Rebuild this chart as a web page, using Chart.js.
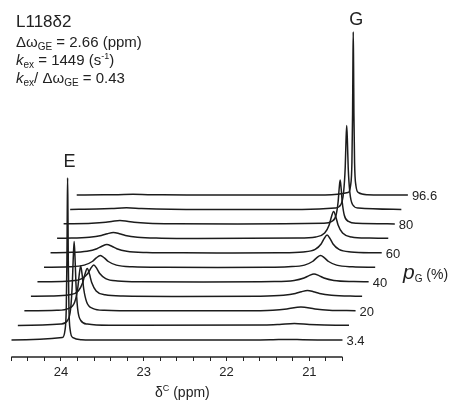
<!DOCTYPE html>
<html>
<head>
<meta charset="utf-8">
<script src="https://cdn.jsdelivr.net/npm/chart.js@4.4.1/dist/chart.umd.min.js"></script>
<style>
    body { margin: 0; background: #fff; }
    #wrap { position: relative; width: 459px; height: 406px; font-family: "Liberation Sans", Arial, sans-serif; color: #222; }
    #wrap canvas { position: absolute; left: 0; top: 0; }
    .t { position: absolute; white-space: nowrap; line-height: 1; }
    .sub { font-size: 10px; position: relative; top: 3px; }
    .sup { font-size: 9px; position: relative; top: -6px; }
</style>
</head>
<body>
<div id="wrap">
    <canvas id="myChart" width="459" height="406"></canvas>
    <div class="t" style="left:16px;top:13px;font-size:17px">L118δ2</div>
    <div class="t" style="left:16px;top:34px;font-size:15px">Δω<span class="sub">GE</span> = 2.66 (ppm)</div>
    <div class="t" style="left:16px;top:52px;font-size:15px"><i>k</i><span class="sub">ex</span> = 1449 (s<span class="sup">-1</span>)</div>
    <div class="t" style="left:16px;top:70px;font-size:15px"><i>k</i><span class="sub">ex</span>/ Δω<span class="sub">GE</span> = 0.43</div>
    <div class="t" style="left:403px;top:261px;font-size:14px"><i style="font-size:21px">p</i><span class="sub">G</span> (%)</div>
    <div class="t" style="left:155px;top:385px;font-size:14px">δ<span class="sup">C</span> (ppm)</div>
</div>
<script>
// population of G for each trace, bottom to top
var pG = [3.4, 10, 20, 30, 40, 50, 60, 70, 80, 90, 96.6];
var pGLabels = ['3.4', '', '20', '', '40', '', '60', '', '80', '', '96.6'];
var xTicks = [24.6, 24.4, 24.2, 24.0, 23.8, 23.6, 23.4, 23.2, 23.0, 22.8, 22.6,
              22.4, 22.2, 22.0, 21.8, 21.6, 21.4, 21.2, 21.0, 20.8, 20.6];
var peakNames = ['E', 'G'];
var peakPpm = [23.92, 21.26];

// spectra: [ppm, intensity]
var spec_3_4 = [[24.6,0],[23.984,2.4],[23.952,9.5],[23.936,32],[23.928,81],[23.924,130],[23.92,162],[23.916,130],[23.912,81],[23.904,32],[23.888,9.5],[23.856,2.4],[23.75,0.3],[23.5,0],[21.62,0.1],[21.44,0.3],[21.26,0.6],[21.08,0.3],[20.9,0.1],[20.6,0]];
var spec_10 = [[24.6,0],[24.08,1.4],[24.0,5],[23.962,17],[23.942,42],[23.931,67],[23.92,84],[23.909,67],[23.898,42],[23.878,17],[23.84,5],[23.76,1.4],[23.5,0.2],[21.62,0.4],[21.44,1],[21.26,2],[21.08,1],[20.9,0.4],[20.6,0.15]];
var spec_20 = [[24.6,0.2],[24.208,0.7],[24.064,2.7],[23.992,9],[23.956,22.5],[23.938,36],[23.92,45],[23.902,36],[23.884,22.5],[23.848,9],[23.776,2.7],[23.632,0.7],[23.2,0.2],[21.94,0.24],[21.6,0.8],[21.43,2],[21.26,4],[21.09,2],[20.92,0.8],[20.6,0.3]];
var spec_30 = [[24.6,0.25],[24.352,0.4],[24.136,1.65],[24.028,5.6],[23.974,14],[23.947,22.4],[23.92,28],[23.893,22.4],[23.866,14],[23.812,5.6],[23.704,1.65],[23.488,0.4],[22.9,0.1],[21.84,0.35],[21.55,1.2],[21.405,3],[21.333,4.8],[21.26,6],[21.188,4.8],[21.115,3],[20.97,1.2],[20.68,0.35],[20.6,0.3]];
var spec_40 = [[24.6,0.2],[24.496,0.26],[24.208,1],[24.064,3.4],[23.992,8.5],[23.956,13.6],[23.92,17],[23.884,13.6],[23.848,8.5],[23.776,3.4],[23.632,1],[23.344,0.26],[22.6,0.1],[21.74,0.47],[21.5,1.6],[21.38,4],[21.32,6.4],[21.26,8],[21.2,6.4],[21.14,4],[21.02,1.6],[20.78,0.47],[20.6,0.25]];
var spec_50 = [[24.6,0.24],[24.308,0.7],[24.114,2.4],[24.017,6],[23.969,9.6],[23.92,12],[23.871,9.6],[23.823,6],[23.726,2.4],[23.532,0.7],[23.14,0.2],[22.5,0.1],[21.9,0.2],[21.65,0.7],[21.454,2.4],[21.357,6],[21.308,9.6],[21.26,12],[21.212,9.6],[21.163,6],[21.066,2.4],[20.872,0.7],[20.6,0.24]];
var spec_60 = [[24.6,0.26],[24.4,0.5],[24.16,1.7],[24.04,4.25],[23.98,6.8],[23.92,8.5],[23.86,6.8],[23.8,4.25],[23.68,1.7],[23.44,0.5],[23.0,0.15],[22.4,0.1],[21.836,0.28],[21.548,1.06],[21.404,3.6],[21.332,9],[21.296,14.4],[21.26,18],[21.224,14.4],[21.188,9],[21.116,3.6],[20.972,1.06],[20.684,0.28],[20.6,0.2]];
var spec_70 = [[24.6,0.26],[24.5,0.35],[24.21,1.2],[24.065,3],[23.993,4.8],[23.92,6],[23.848,4.8],[23.775,3],[23.63,1.2],[23.34,0.35],[22.9,0.1],[21.692,0.4],[21.476,1.6],[21.368,5.4],[21.314,13.5],[21.287,21.6],[21.26,27],[21.233,21.6],[21.206,13.5],[21.152,5.4],[21.044,1.6],[20.828,0.4],[20.6,0.15]];
var spec_80 = [[24.6,0.2],[24.26,0.7],[24.09,1.75],[24.005,2.8],[23.92,3.5],[23.835,2.8],[23.75,1.75],[23.58,0.7],[23.24,0.2],[22.5,0.05],[21.46,0.66],[21.36,2.6],[21.31,8.8],[21.285,22],[21.2725,35],[21.26,44],[21.2475,35],[21.235,22],[21.21,8.8],[21.16,2.6],[21.06,0.66],[20.6,0.1]];
var spec_90 = [[24.6,0.12],[24.28,0.4],[24.1,0.9],[23.92,1.8],[23.74,0.9],[23.56,0.4],[23.2,0.1],[21.8,0.1],[21.4,1.4],[21.33,5],[21.298,17],[21.278,42],[21.269,67],[21.26,84],[21.251,67],[21.242,42],[21.222,17],[21.19,5],[21.12,1.4],[20.6,0.05]];
var spec_96_6 = [[24.6,0.05],[24.28,0.14],[24.1,0.35],[23.92,0.7],[23.74,0.35],[23.56,0.14],[23.2,0.05],[21.6,0.1],[21.324,2.4],[21.292,9.5],[21.276,32.6],[21.268,81.5],[21.264,130],[21.26,163],[21.256,130],[21.252,81.5],[21.244,32.6],[21.228,9.5],[21.196,2.4],[21.09,0.35],[20.6,0]];

var spectra = [spec_3_4, spec_10, spec_20, spec_30, spec_40, spec_50, spec_60, spec_70, spec_80, spec_90, spec_96_6];

// stacking offsets for the waterfall
var stepPpm = 0.079;
var stepY = 14.5;
var axisLeft = 24.6, axisRight = 20.6;
var font = '"Liberation Sans", Arial, sans-serif';

var stackPlugin = {
    id: 'stackLabels',
    afterDatasetsDraw: function (chart) {
        var ctx = chart.ctx;
        var x = chart.scales.x, y = chart.scales.y;
        ctx.save();
        // axis line only under the front trace
        ctx.strokeStyle = '#222';
        ctx.lineWidth = 1.3;
        ctx.beginPath();
        ctx.moveTo(x.getPixelForValue(axisLeft), chart.chartArea.bottom);
        ctx.lineTo(x.getPixelForValue(axisRight), chart.chartArea.bottom);
        ctx.stroke();

        ctx.fillStyle = '#222';
        ctx.font = '13px ' + font;
        ctx.textBaseline = 'middle';
        ctx.textAlign = 'left';
        pGLabels.forEach(function (lab, i) {
            if (!lab) return;
            ctx.fillText(lab, x.getPixelForValue(axisRight - i * stepPpm) + 4, y.getPixelForValue(i * stepY) + 1);
        });

        // E and G above their tallest peaks
        ctx.font = '18px ' + font;
        ctx.textAlign = 'center';
        ctx.textBaseline = 'alphabetic';
        var first = 0, last = spectra.length - 1;
        var eTop = Math.max.apply(null, spectra[first].map(function (p) { return p[1]; }));
        var gTop = Math.max.apply(null, spectra[last].map(function (p) { return p[1]; }));
        ctx.fillText(peakNames[0], x.getPixelForValue(peakPpm[0]) + 2, y.getPixelForValue(eTop) - 11);
        ctx.fillText(peakNames[1], x.getPixelForValue(peakPpm[1] - last * stepPpm) + 3, y.getPixelForValue(gTop + last * stepY) - 7);
        ctx.restore();
    }
};

document.addEventListener('DOMContentLoaded', function () {
    var ctx = document.getElementById('myChart').getContext('2d');
    var datasets = spectra.map(function (s, i) {
        return {
            label: pG[i] + '',
            data: s.map(function (p) { return { x: p[0] - i * stepPpm, y: p[1] + i * stepY }; }),
            borderColor: '#1c1c1c',
            borderWidth: 1.5,
            pointRadius: 0,
            fill: false,
            cubicInterpolationMode: 'monotone'
        };
    });
    var myChart = new Chart(ctx, {
        type: 'line',
        data: { datasets: datasets },
        options: {
            responsive: false,
            animation: false,
            layout: { padding: { left: 11.3, right: 42, top: 20, bottom: 0 } },
            plugins: { legend: { display: false }, tooltip: { enabled: false } },
            scales: {
                x: {
                    type: 'linear',
                    reverse: true,
                    min: 19.7,
                    max: 24.6,
                    afterBuildTicks: function (scale) {
                        scale.ticks = xTicks.map(function (v) { return { value: v }; });
                    },
                    afterFit: function (scale) { scale.height = 49; },
                    border: { display: false },
                    grid: { display: true, drawOnChartArea: false, drawTicks: true, tickLength: 4, color: '#222', lineWidth: 1 },
                    ticks: {
                        autoSkip: false,
                        maxRotation: 0,
                        padding: 4,
                        color: '#222',
                        font: { family: font, size: 13 },
                        callback: function (v) {
                            return Math.abs(v - Math.round(v)) < 1e-6 ? String(Math.round(v)) : '';
                        }
                    }
                },
                y: { display: false, min: -17, max: 320 }
            }
        },
        plugins: [stackPlugin]
    });
});
</script>
</body>
</html>
